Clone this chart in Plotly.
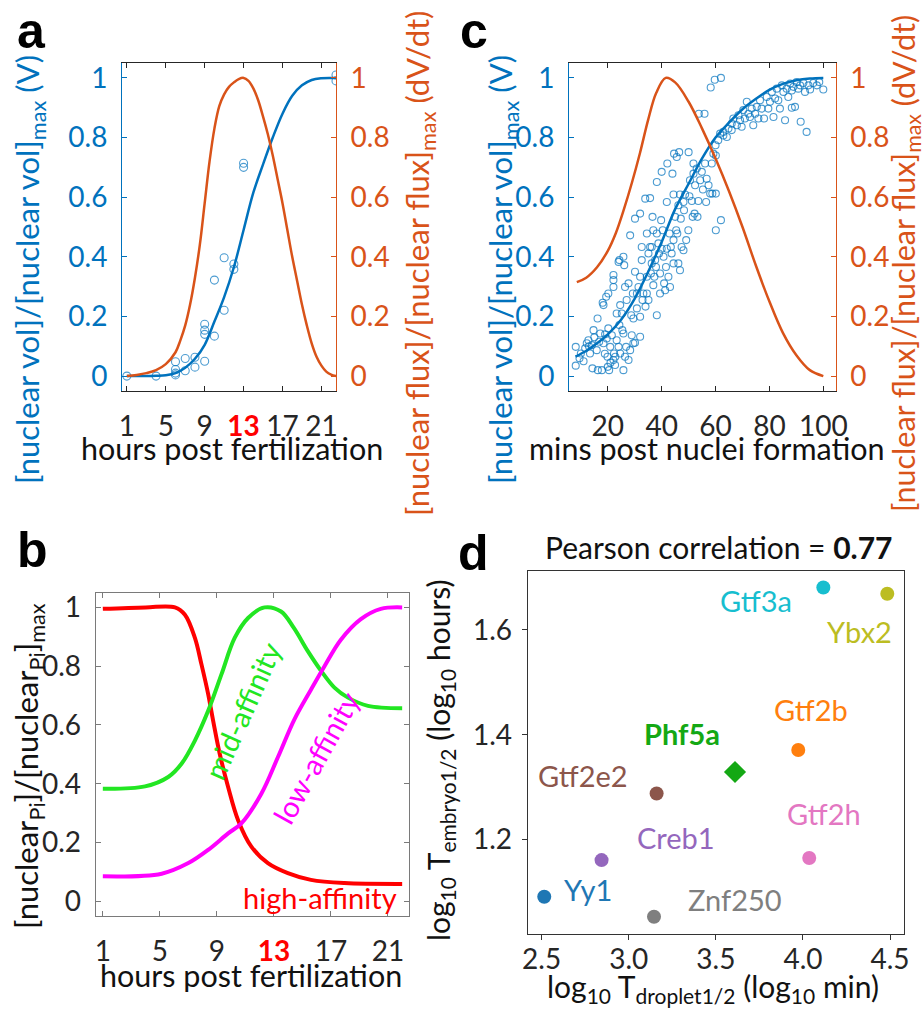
import plotly.graph_objects as go

W, H = 922, 1019
FONT = "Lato"
BLUE = "#0072BD"
ORANGE = "#D95319"
DARK = "#262626"

# ---------------- panel a data ----------------
a_obs_hours = [1, 4, 6, 6, 6, 6, 7, 7, 8, 8, 9, 9, 9, 9, 10, 10, 11, 11, 12, 12, 13, 13, 22.5, 22.5]
a_obs_vol = [0.0, 0.0, 0.048, 0.022, 0.010, 0.004, 0.059, 0.018, 0.063, 0.030, 0.050, 0.174,
             0.154, 0.140, 0.322, 0.134, 0.397, 0.221, 0.376, 0.358, 0.714, 0.700, 1.01, 0.99]
a_fit_hours = [1, 2, 3, 4, 5, 6, 7, 8, 9, 10, 11, 12, 13, 14, 15, 16, 17, 18, 19, 20, 21, 22, 22.5]
a_fit_vol = [0, 0, 0, 0.001, 0.003, 0.01, 0.028, 0.058, 0.105, 0.183, 0.265, 0.365, 0.49, 0.615,
             0.71, 0.80, 0.88, 0.94, 0.975, 0.993, 0.999, 1.0, 1.0]
a_flux_hours = [1, 2, 3, 4, 5, 6, 6.5, 7, 7.5, 8, 8.5, 9, 9.5, 10, 10.5, 11, 11.5, 12, 12.5, 13,
                13.5, 14, 14.5, 15, 15.5, 16, 16.5, 17, 17.5, 18, 18.5, 19, 19.5, 20, 20.5, 21,
                21.5, 22, 22.5]
a_flux = [0, 0.004, 0.01, 0.02, 0.04, 0.08, 0.12, 0.17, 0.24, 0.33, 0.44, 0.58, 0.72, 0.83, 0.905,
          0.945, 0.97, 0.985, 0.996, 1.0, 0.99, 0.965, 0.925, 0.87, 0.81, 0.74, 0.66, 0.58, 0.49,
          0.40, 0.32, 0.24, 0.17, 0.11, 0.065, 0.035, 0.015, 0.005, 0.0]

# ---------------- panel b data ----------------
b_hours_high = [1, 4, 6.06, 6.76, 7.46, 7.92, 8.39, 8.74, 9.2, 9.79, 10.49, 11.42, 12.58, 13.98,
                15.6, 17.95, 22]
b_high = [0.995, 1.0, 1.0, 0.975, 0.896, 0.806, 0.705, 0.614, 0.502, 0.389, 0.276, 0.186, 0.13,
          0.096, 0.073, 0.062, 0.059]
b_hours_mid = [1, 3.96, 5.59, 6.52, 7.46, 8.39, 9.32, 10.25, 11.19, 12.35, 13.5, 14.4, 15.38,
               16.31, 17.25, 18.2, 19.6, 22]
b_mid = [0.383, 0.391, 0.423, 0.468, 0.547, 0.648, 0.772, 0.896, 0.964, 1.0, 0.986, 0.93,
         0.851, 0.784, 0.727, 0.693, 0.665, 0.657]
b_hours_low = [1, 5.13, 7, 8.39, 9.79, 10.72, 12.12, 13.28, 14.45, 15.6, 16.55, 17.7, 19.1, 20.5,
               22]
b_low = [0.085, 0.094, 0.13, 0.175, 0.231, 0.265, 0.366, 0.49, 0.62, 0.72, 0.80, 0.89, 0.96,
         0.995, 1.0]

# ---------------- panel c data ----------------
c_obs_mins = [8.1, 8.1, 10.0, 11.6, 12.2, 13.4, 14.1, 14.3, 14.7, 15.9, 16.3, 17.2, 17.8, 18.4,
              16.2, 18.1, 18.4, 19.6, 19.9, 20.0, 20.5, 20.2, 20.9, 21.5, 22.1, 22.1, 22.3, 22.7,
              22.8, 23.3, 23.3, 24.0, 24.3, 24.6, 25.4, 25.8, 25.8, 26.4, 26.8, 27.7, 28.3, 28.9,
              29.5, 30.1, 32.0, 9.5, 11.0, 12.8, 15.0, 16.8, 18.9, 21.0, 19.0, 13.0,
              19.4, 20.2, 22.1, 22.1, 24.0, 24.3, 25.8, 26.1, 24.6, 25.2, 26.4, 27.0, 27.7, 28.3,
              28.7, 29.3, 29.5, 30.1, 30.8, 30.8, 31.4, 32.0, 32.0, 32.6, 32.9, 30.1, 32.0, 33.9,
              34.5, 34.5, 35.1, 35.7, 35.7, 36.3, 36.3, 36.9, 36.9, 37.6, 38.2, 38.2, 38.2, 39.4,
              39.4, 39.8, 40.0, 40.7, 40.9, 41.3, 41.9, 41.9, 42.1, 42.5, 42.9, 43.1, 43.7, 44.0,
              44.4, 44.4, 44.6, 45.0, 45.4, 45.6, 45.8, 46.2, 46.2, 46.5, 46.8, 46.8, 47.1, 47.4,
              48.1, 48.1, 48.3, 48.7, 49.1, 49.9, 50.0, 50.3, 50.5, 51.2, 51.5, 51.8, 51.8, 52.2,
              52.4, 53.0, 53.3, 53.6, 53.8, 54.3, 54.9, 55.3, 55.9, 56.1, 56.5, 56.7, 57.4, 58.0,
              58.2, 58.6, 58.8, 59.7, 60.0, 60.1, 60.1, 60.1, 62.0, 62.0,
              34.5, 35.1, 36.0, 36.6, 37.3, 37.9, 38.8, 39.0, 40.0, 40.4, 41.6, 43.4, 44.4, 32.6,
              33.2, 34.0,
              62.9, 64.2, 64.8, 66.0, 66.6, 67.9, 68.5, 69.1, 69.7, 70.3, 70.9, 71.6, 72.2, 72.8,
              73.4, 74.0, 74.7, 75.3, 75.9, 76.5, 77.1, 78.0, 79.0, 79.6, 80.2, 80.9, 81.5, 82.1,
              82.7, 83.3, 83.9, 84.6, 85.2, 85.8, 86.4, 87.0, 87.7, 88.3, 88.3, 88.9, 89.5, 90.1,
              90.7, 91.4, 91.6, 92.6, 93.2, 93.8, 94.5, 95.1, 96.3, 97.6, 98.5, 100.0, 66.0, 62.9,
              61.0, 61.7, 59.2]
c_obs_vol = [0.098, 0.035, 0.076, 0.093, 0.11, 0.076, 0.104, 0.026, 0.154, 0.087, 0.02, 0.143,
             0.02, 0.11, 0.193, 0.246, 0.238, 0.126, 0.065, 0.031, 0.02, 0.16, 0.098, 0.137, 0.299,
             0.054, 0.076, 0.037, 0.065, 0.21, 0.12, 0.098, 0.171, 0.076, 0.154, 0.02, 0.143,
             0.065, 0.098, 0.054, 0.087, 0.137, 0.11, 0.112, 0.132, 0.06, 0.05, 0.12, 0.13,
             0.115, 0.075, 0.045, 0.14, 0.1,
             0.266, 0.277, 0.339, 0.322, 0.383, 0.389, 0.4, 0.372, 0.238, 0.21, 0.299, 0.255,
             0.311, 0.472, 0.204, 0.277, 0.193, 0.35, 0.277, 0.227, 0.299, 0.333, 0.199, 0.389,
             0.255, 0.528, 0.545, 0.595, 0.333, 0.277, 0.255, 0.597, 0.433, 0.433, 0.378, 0.489,
             0.305, 0.389, 0.478, 0.204, 0.651, 0.344, 0.277, 0.523, 0.685, 0.4, 0.311, 0.288,
             0.584, 0.427, 0.713, 0.333, 0.478, 0.299, 0.411, 0.679, 0.609, 0.378, 0.746, 0.534,
             0.489, 0.735, 0.478, 0.573, 0.378, 0.751, 0.609, 0.355, 0.528, 0.433, 0.584, 0.422,
             0.556, 0.609, 0.456, 0.489, 0.751, 0.603, 0.657, 0.587, 0.534, 0.679, 0.713, 0.545,
             0.64, 0.696, 0.534, 0.587, 0.88, 0.657, 0.685, 0.626, 0.88, 0.713, 0.584, 0.662,
             0.64, 0.612, 0.968, 0.713, 0.612, 0.994, 0.774, 0.74, 0.612, 0.489, 1.0, 0.523,
             0.478, 0.411, 0.344, 0.534, 0.333, 0.366, 0.445, 0.411, 0.427, 0.489, 0.366, 0.433,
             0.456, 0.433, 0.277, 0.233,
             0.807, 0.802, 0.83, 0.847, 0.864, 0.841, 0.875, 0.858, 0.836, 0.892, 0.864, 0.92,
             0.88, 0.869, 0.897, 0.841, 0.88, 0.903, 0.864, 0.925, 0.897, 0.864, 0.936, 0.897,
             0.92, 0.953, 0.869, 0.931, 0.964, 0.925, 0.897, 0.975, 0.953, 0.858, 0.964, 0.936,
             0.981, 0.958, 0.9, 0.97, 0.903, 0.986, 0.964, 0.975, 0.853, 0.983, 0.953, 0.819,
             0.975, 0.961, 0.983, 0.975, 0.986, 0.961, 0.825, 0.819, 0.791, 0.813, 0.746]
c_fit_mins = [8, 12, 16, 20, 25, 30, 35, 40, 45, 50, 55, 60, 65, 70, 75, 80, 85, 90, 95, 100]
c_fit_vol = [0.065, 0.085, 0.11, 0.14, 0.19, 0.26, 0.35, 0.45, 0.56, 0.645, 0.73, 0.80, 0.85,
             0.895, 0.93, 0.96, 0.98, 0.992, 0.998, 1.0]
c_flux_mins = [8.5, 12, 16, 20, 23, 26, 29, 32, 35, 38, 41.5, 45, 50, 55, 60, 65, 70, 75, 80, 85,
               90, 95, 100]
c_flux = [0.315, 0.33, 0.365, 0.42, 0.48, 0.56, 0.65, 0.75, 0.86, 0.95, 1.0, 0.985, 0.92, 0.83,
          0.73, 0.62, 0.5, 0.37, 0.25, 0.145, 0.07, 0.02, 0.0]

# ---------------- panel d data ----------------
d_genes = ["Yy1", "Creb1", "Znf250", "Gtf2e2", "Phf5a", "Gtf2b", "Gtf2h", "Gtf3a", "Ybx2"]
d_droplet = [2.515, 2.844, 3.145, 3.16, 3.61, 3.973, 4.036, 4.117, 4.484]
d_embryo = [1.091, 1.161, 1.053, 1.288, 1.329, 1.371, 1.165, 1.681, 1.669]
d_colors = ["#1f77b4", "#9467bd", "#7f7f7f", "#8c564b", "#14a814", "#ff7f0e", "#e377c2",
            "#17becf", "#bcbd22"]
d_label_shift = [(44, 7), (74, 23), (81, 17), (-74, 18), (-53, 39), (13, 40), (15, 44),
                 (-67, -13), (-28, -38)]

hour_ticks = [1, 5, 9, 13, 17, 21]
hour_text = ["1", "5", "9", "<span style='color:#ff0000'><b>13</b></span>", "17", "21"]
frac_ticks = [0, 0.2, 0.4, 0.6, 0.8, 1]
frac_text = ["0", "0.2", "0.4", "0.6", "0.8", "1"]

TICK = 28
TITLE = 31


def px(x):
    return x / W


def py(y):
    return 1 - y / H


fig = go.Figure()

# panel a
fig.add_trace(go.Scatter(x=a_obs_hours, y=a_obs_vol, mode="markers", xaxis="x", yaxis="y",
                         marker=dict(symbol="circle-open", size=8, color=BLUE, opacity=0.7,
                                     line=dict(width=1.1))))
fig.add_trace(go.Scatter(x=a_fit_hours, y=a_fit_vol, mode="lines", xaxis="x", yaxis="y",
                         line=dict(color=BLUE, width=2.5, shape="spline")))
fig.add_trace(go.Scatter(x=a_flux_hours, y=a_flux, mode="lines", xaxis="x", yaxis="y2",
                         line=dict(color=ORANGE, width=2.5, shape="spline")))
# panel c
fig.add_trace(go.Scatter(x=c_obs_mins, y=c_obs_vol, mode="markers", xaxis="x3", yaxis="y3",
                         marker=dict(symbol="circle-open", size=7, color=BLUE, opacity=0.7,
                                     line=dict(width=1.1))))
fig.add_trace(go.Scatter(x=c_fit_mins, y=c_fit_vol, mode="lines", xaxis="x3", yaxis="y3",
                         line=dict(color=BLUE, width=2.5, shape="spline")))
fig.add_trace(go.Scatter(x=c_flux_mins, y=c_flux, mode="lines", xaxis="x3", yaxis="y4",
                         line=dict(color=ORANGE, width=2.5, shape="spline")))
# panel b
fig.add_trace(go.Scatter(x=b_hours_high, y=b_high, mode="lines", xaxis="x5", yaxis="y5",
                         line=dict(color="#ff0000", width=4, shape="spline")))
fig.add_trace(go.Scatter(x=b_hours_mid, y=b_mid, mode="lines", xaxis="x5", yaxis="y5",
                         line=dict(color="#22e622", width=4, shape="spline")))
fig.add_trace(go.Scatter(x=b_hours_low, y=b_low, mode="lines", xaxis="x5", yaxis="y5",
                         line=dict(color="#ff00ff", width=4, shape="spline")))
# panel d
for g, xv, yv, col in zip(d_genes, d_droplet, d_embryo, d_colors):
    fig.add_trace(go.Scatter(x=[xv], y=[yv], mode="markers", xaxis="x6", yaxis="y6",
                             marker=dict(symbol="diamond" if g == "Phf5a" else "circle",
                                         size=17 if g == "Phf5a" else 14, color=col)))

tickfont = dict(family=FONT, size=TICK)


def xax(domain, anchor, rng, tickvals, ticktext, color=DARK, inside=True, standoff=10):
    return dict(domain=domain, anchor=anchor, range=rng, tickmode="array", tickvals=tickvals,
                ticktext=ticktext, ticks="inside" if inside else "outside", ticklen=5,
                tickcolor=color, showline=True, linecolor=color, linewidth=1,
                mirror="ticks" if inside else True, showgrid=False, zeroline=False,
                tickfont=dict(tickfont, color=DARK), automargin=False,
                ticklabelstandoff=standoff)


def yax(domain, anchor, rng, tickvals, ticktext, color, side="left", overlaying=None,
        mirror=False, inside=True, labelcolor=None, standoff=8):
    d = dict(domain=domain, anchor=anchor, range=rng, tickmode="array", tickvals=tickvals,
             ticktext=ticktext, ticks="inside" if inside else "outside", ticklen=5,
             tickcolor=color, showline=True, linecolor=color, linewidth=1, mirror=mirror,
             showgrid=False, zeroline=False, side=side,
             tickfont=dict(tickfont, color=labelcolor or color),
             automargin=False, ticklabelstandoff=standoff)
    if overlaying:
        d["overlaying"] = overlaying
    return d


dom_top = [py(391), py(63)]
fig.update_layout(
    width=W, height=H, margin=dict(l=0, r=0, t=0, b=0), showlegend=False,
    paper_bgcolor="white", plot_bgcolor="white", font=dict(family=FONT, color=DARK),
    xaxis=xax([px(122), px(336)], "y", [0.5, 22.5], hour_ticks, hour_text),
    yaxis=yax(dom_top, "x", [-0.05, 1.05], frac_ticks, frac_text, BLUE),
    yaxis2=yax(dom_top, "x", [-0.05, 1.05], frac_ticks, frac_text, ORANGE, side="right",
               overlaying="y"),
    xaxis3=xax([px(569), px(835.7)], "y3", [5.6, 104.6], [20, 40, 60, 80, 100],
               ["20", "40", "60", "80", "100"]),
    yaxis3=yax(dom_top, "x3", [-0.05, 1.05], frac_ticks, frac_text, BLUE),
    yaxis4=yax(dom_top, "x3", [-0.05, 1.05], frac_ticks, frac_text, ORANGE, side="right",
               overlaying="y3"),
    xaxis5=xax([px(95.7), px(409.3)], "y5", [0.5, 22.5], hour_ticks, hour_text, color="#7a7a7a"),
    yaxis5=yax([py(916), py(592.7)], "x5", [-0.05, 1.05], frac_ticks, frac_text, "#7a7a7a",
               mirror="ticks", labelcolor=DARK),
    xaxis6=xax([px(527.7), px(904)], "y6", [2.42, 4.58], [2.5, 3.0, 3.5, 4.0, 4.5],
               ["2.5", "3.0", "3.5", "4.0", "4.5"], color="#333333", inside=False, standoff=-5),
    yaxis6=yax([py(934), py(570.7)], "x6", [1.02, 1.713], [1.2, 1.4, 1.6],
               ["1.2", "1.4", "1.6"], "#333333", mirror=True, inside=False, labelcolor=DARK,
               standoff=4),
)

ann = []


def label(text, x, y, size=TITLE, color="#111111", angle=0, **kw):
    ann.append(dict(text=text, x=px(x), y=py(y), xref="paper", yref="paper", showarrow=False,
                    textangle=angle, xanchor="center", yanchor="middle",
                    font=dict(family=FONT, size=size, color=color), **kw))


label("[nuclear vol]/[nuclear vol]<sub>max</sub> (V)", 29, 270, color=BLUE, angle=-90)
label("[nuclear flux]/[nuclear flux]<sub>max</sub> (dV/dt)", 419, 264, color=ORANGE, angle=-90)
label("hours post fertilization", 232, 448, size=30.5)
label("[nuclear vol]/[nuclear vol]<sub>max</sub> (V)", 502, 270, color=BLUE, angle=-90)
label("[nuclear flux]/[nuclear flux]<sub>max</sub> (dV/dt)", 905, 264, size=30.5, color=ORANGE,
      angle=-90)
label("mins post nuclei formation", 707, 448, size=30.5)
label("[nuclear<sub>Pi</sub>]/[nuclear<sub>Pi</sub>]<sub>max</sub>", 28, 766, size=31, angle=-90)
label("hours post fertilization", 251, 975, size=30.5)
label("log<sub>10</sub> T<sub>embryo1/2</sub> (log<sub>10</sub> hours)", 440, 760, size=30,
      angle=-90)
label("log<sub>10</sub> T<sub>droplet1/2</sub> (log<sub>10</sub> min)", 713, 988, size=30)
label("Pearson correlation = <b>0.77</b>", 718, 547, size=30)

for t, x, y in [("a", 31, 31), ("c", 474, 31), ("b", 32, 550), ("d", 473, 553)]:
    ann.append(dict(text="<b>%s</b>" % t, x=px(x), y=py(y), xref="paper", yref="paper",
                    showarrow=False, xanchor="center", yanchor="middle",
                    font=dict(family="Liberation Sans", size=50, color="black")))

# panel b curve labels
ann.append(dict(text="mid-affinity", x=10.78, y=0.649, xref="x5", yref="y5", showarrow=False,
                textangle=-66, font=dict(family=FONT, size=29, color="#22e622")))
ann.append(dict(text="low-affinity", x=15.93, y=0.49, xref="x5", yref="y5", showarrow=False,
                textangle=-61, font=dict(family=FONT, size=29, color="#ff00ff")))
ann.append(dict(text="high-affinity", x=16.22, y=0.013, xref="x5", yref="y5", showarrow=False,
                font=dict(family=FONT, size=29, color="#ff0000")))

# panel d point labels
for g, xv, yv, col, (dx, dy) in zip(d_genes, d_droplet, d_embryo, d_colors, d_label_shift):
    ann.append(dict(text="<b>%s</b>" % g if g == "Phf5a" else g, x=xv, y=yv, xref="x6",
                    yref="y6", showarrow=False, xshift=dx, yshift=dy,
                    font=dict(family=FONT, size=29, color=col)))

fig.update_layout(annotations=ann)
fig.write_html("out.html")
